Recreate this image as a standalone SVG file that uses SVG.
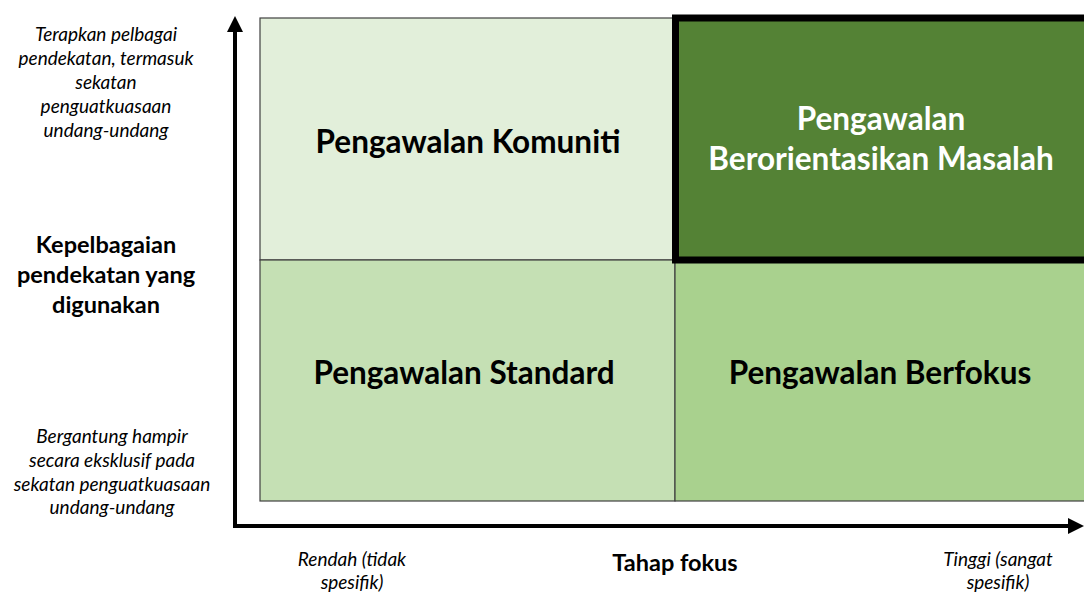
<svg xmlns="http://www.w3.org/2000/svg" width="1084" height="593" viewBox="0 0 1084 593">
<style>
.q{font-family:Lato,"Open Sans",sans-serif;font-weight:bold;font-size:31.5px;text-anchor:middle}
.it{font-family:Lato,"Open Sans",sans-serif;font-style:italic;font-size:19px;text-anchor:middle;fill:#000}
.ax{font-family:Lato,"Open Sans",sans-serif;font-weight:bold;font-size:23.5px;text-anchor:middle;fill:#000}
.cell{stroke:#404040;stroke-width:1.2}
</style>
<defs>
<marker id="ah" markerWidth="4" markerHeight="4" refX="3" refY="2" orient="auto" markerUnits="strokeWidth">
<path d="M0,0 L4,2 L0,4 Z" fill="#000"/>
</marker>
</defs>
<rect width="1084" height="593" fill="#fff"/>
<g id="connectors">
<line x1="235" y1="528" x2="235" y2="20" stroke="#000" stroke-width="4" marker-end="url(#ah)"/>
<line x1="233" y1="526" x2="1080" y2="526" stroke="#000" stroke-width="4" marker-end="url(#ah)"/>
</g>
<g id="q-komuniti">
<rect class="cell" x="260" y="18" width="415" height="242" fill="#E2EFDA"/>
<text class="q" x="468" y="153" fill="#000">Pengawalan Komuniti</text>
</g>
<g id="q-standard">
<rect class="cell" x="260" y="260" width="415" height="241" fill="#C5E0B4"/>
<text class="q" x="464" y="384" fill="#000">Pengawalan Standard</text>
</g>
<g id="q-berfokus">
<rect class="cell" x="675" y="260" width="420" height="241" fill="#A9D18E"/>
<text class="q" x="880" y="384" fill="#000">Pengawalan Berfokus</text>
</g>
<g id="q-masalah">
<rect x="675.5" y="18" width="420" height="242" fill="#548235" stroke="#000" stroke-width="7"/>
<text class="q" x="881" y="130" fill="#fff">Pengawalan</text>
<text class="q" x="881" y="170" fill="#fff">Berorientasikan Masalah</text>
</g>
<g id="y-axis-labels">
<text class="it" x="106" y="41">Terapkan pelbagai</text>
<text class="it" x="106" y="65">pendekatan, termasuk</text>
<text class="it" x="106" y="89">sekatan</text>
<text class="it" x="106" y="113">penguatkuasaan</text>
<text class="it" x="106" y="137">undang-undang</text>
<text class="ax" x="106" y="253">Kepelbagaian</text>
<text class="ax" x="106" y="283">pendekatan yang</text>
<text class="ax" x="106" y="313">digunakan</text>
<text class="it" x="112" y="443">Bergantung hampir</text>
<text class="it" x="112" y="467">secara eksklusif pada</text>
<text class="it" x="112" y="491">sekatan penguatkuasaan</text>
<text class="it" x="112" y="514">undang-undang</text>
</g>
<g id="x-axis-labels">
<text class="it" x="352" y="566">Rendah (tidak</text>
<text class="it" x="352" y="589">spesifik)</text>
<text class="ax" x="675" y="571">Tahap fokus</text>
<text class="it" x="998" y="566">Tinggi (sangat</text>
<text class="it" x="998" y="589">spesifik)</text>
</g>
</svg>
